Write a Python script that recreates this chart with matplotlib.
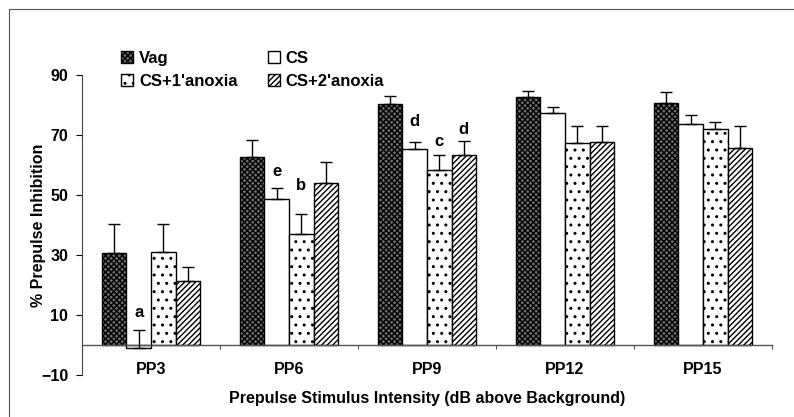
import matplotlib
matplotlib.use("Agg")
import matplotlib.pyplot as plt
from matplotlib.lines import Line2D
from matplotlib.patches import Patch
import numpy as np

plt.rcParams['font.family'] = ['Liberation Sans', 'DejaVu Sans']
plt.rcParams['font.weight'] = 'bold'
plt.rcParams['hatch.linewidth'] = 1.0

categories = ["PP3", "PP6", "PP9", "PP12", "PP15"]
series_names = ["Vag", "CS", "CS+1'anoxia", "CS+2'anoxia"]
vag = [30.6, 62.6, 80.3, 82.8, 80.7]
vag_err = [9.8, 5.8, 2.7, 2.0, 3.5]
cs = [-1.0, 48.8, 65.3, 77.4, 73.7]
cs_err = [6.0, 3.6, 2.4, 2.0, 3.1]
cs1 = [31.0, 36.9, 58.3, 67.2, 72.0]
cs1_err = [9.5, 6.8, 5.0, 5.7, 2.2]
cs2 = [21.2, 54.0, 63.2, 67.7, 65.6]
cs2_err = [4.8, 7.0, 4.8, 5.2, 7.3]

# significance letters: (category index, series index, letter, y)
letters = [(0, 1, "a", 10.8), (1, 1, "e", 57.8), (1, 2, "b", 53.3),
           (2, 1, "d", 74.4), (2, 2, "c", 68.0), (2, 3, "d", 71.9)]

values = [vag, cs, cs1, cs2]
errors = [vag_err, cs_err, cs1_err, cs2_err]
styles = [dict(facecolor='#6e6e6e', hatch='xxxxxx'),
          dict(facecolor='white', hatch=None),
          dict(facecolor='white', hatch='..'),
          dict(facecolor='white', hatch='//////')]

fig = plt.figure(figsize=(7.94, 4.17), dpi=100)
ax = fig.add_axes([0.1033, 0.1007, 0.869, 0.7193])

x = np.arange(len(categories))
w = 0.178
for i, (vals, errs, st) in enumerate(zip(values, errors, styles)):
    pos = x + (i - 1.5) * w
    ax.bar(pos, vals, width=w, edgecolor='black', linewidth=1.0, zorder=2, **st)
    ax.errorbar(pos, vals, yerr=[np.zeros(len(errs)), errs], fmt='none',
                ecolor='black', elinewidth=1.0, capsize=4, capthick=1.0, zorder=3)

for ci, si, lab, yv in letters:
    ax.text(x[ci] + (si - 1.5) * w, yv, lab, ha='center', va='center',
            fontsize=12, fontweight='bold')

ax.set_xlim(-0.5, 4.5)
ax.set_ylim(-10, 90)
ax.set_yticks([-10, 10, 30, 50, 70, 90])
ax.tick_params(axis='y', labelsize=11.5, length=4, width=0.8, direction='out', pad=6)

ax.spines['bottom'].set_position(('data', 0))
ax.spines['bottom'].set_color('#555555')
ax.spines['bottom'].set_linewidth(1.0)
ax.set_xticks(x)
ax.set_xticklabels(categories)
ax.tick_params(axis='x', which='major', length=0, labelsize=11.5, pad=12)
ax.set_xticks(np.arange(0.5, 4.6, 1.0), minor=True)
ax.tick_params(axis='x', which='minor', length=3, width=0.8, direction='out',
               color='#555555')

for s in ['top', 'right']:
    ax.spines[s].set_visible(False)
ax.spines['left'].set_color('#444444')
ax.spines['left'].set_linewidth(0.8)

ax.set_ylabel("% Prepulse Inhibition", fontsize=11.5, fontweight='bold', labelpad=-3.5)
ax.set_xlabel("Prepulse Stimulus Intensity (dB above Background)", fontsize=11.5,
              fontweight='bold', labelpad=10)

handles = [Patch(edgecolor='black', linewidth=1.0, **st) for st in styles]
order = [0, 2, 1, 3]
fig.legend([handles[k] for k in order], [series_names[k] for k in order],
           ncol=2, loc='upper left', bbox_to_anchor=(0.152, 0.878),
           frameon=False, fontsize=12, handlelength=0.75, handleheight=0.75,
           handletextpad=0.35, columnspacing=1.8, labelspacing=0.5,
           borderaxespad=0, borderpad=0)

fig.add_artist(Line2D([0.011, 0.011], [0.0, 0.978], color='#555555', linewidth=0.8))
fig.add_artist(Line2D([0.011, 1.0], [0.978, 0.978], color='#555555', linewidth=0.8))

fig.savefig("out.png", dpi=100)
